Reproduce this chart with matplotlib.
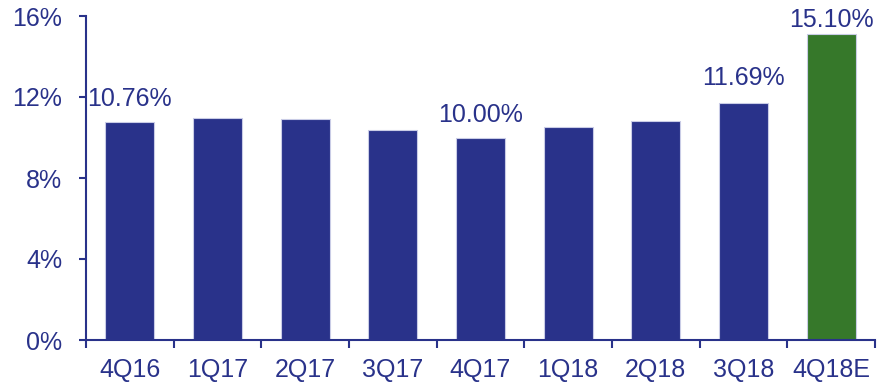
import matplotlib
matplotlib.use("Agg")
import matplotlib.pyplot as plt
import numpy as np

# Quarterly ratio, last quarter is an estimate
quarters = ["4Q16", "1Q17", "2Q17", "3Q17", "4Q17", "1Q18", "2Q18", "3Q18", "4Q18E"]
ratios = [10.76, 10.96, 10.91, 10.37, 10.00, 10.53, 10.81, 11.69, 15.10]
labelled = {"4Q16": 10.76, "4Q17": 10.00, "3Q18": 11.69, "4Q18E": 15.10}
y_ticks = [0, 4, 8, 12, 16]

NAVY = "#29328A"
GREEN = "#36782A"
FS = 18

plt.rcParams["font.family"] = ["Liberation Sans", "DejaVu Sans"]

fig = plt.figure(figsize=(8.77, 3.84), dpi=100)
ax = fig.add_axes([86 / 877, 44 / 384, 789 / 877, 324 / 384])

x = np.arange(len(quarters))
colors = [GREEN if q.endswith("E") else NAVY for q in quarters]
ax.bar(x, ratios, width=0.56, color=colors, edgecolor="#C9CCE6", linewidth=0.8, zorder=2)

# value labels above selected bars (baseline offsets in points)
label_offsets = {"4Q16": 11.5, "4Q17": 11.5, "3Q18": 13, "4Q18E": 5.4}
for q, v in labelled.items():
    i = quarters.index(q)
    ax.annotate(f"{v:.2f}%", xy=(i, v), xytext=(0, label_offsets[q]),
                textcoords="offset points", ha="center", va="baseline",
                fontsize=FS, color=NAVY, annotation_clip=False)

ax.set_xlim(-0.5, len(quarters) - 0.5)
ax.set_ylim(0, 16)

# category boundary ticks on x, labels centred under bars
ax.set_xticks(np.arange(len(quarters) + 1) - 0.5)
ax.set_xticklabels([])
ax.set_xticks(x, minor=True)
ax.set_xticklabels(quarters, minor=True)
ax.tick_params(axis="x", which="major", direction="out", length=6, width=1.5, color=NAVY)
ax.tick_params(axis="x", which="minor", length=0, pad=13, labelsize=FS, labelcolor=NAVY)

ax.set_yticks(y_ticks)
ax.set_yticklabels([f"{t}%" for t in y_ticks])
ax.tick_params(axis="y", direction="out", length=5, width=1.5, color=NAVY,
               pad=12, labelsize=FS, labelcolor=NAVY)

for side in ("top", "right"):
    ax.spines[side].set_visible(False)
for side in ("left", "bottom"):
    ax.spines[side].set_color(NAVY)
    ax.spines[side].set_linewidth(1.5)

fig.savefig("out.png", dpi=100)
